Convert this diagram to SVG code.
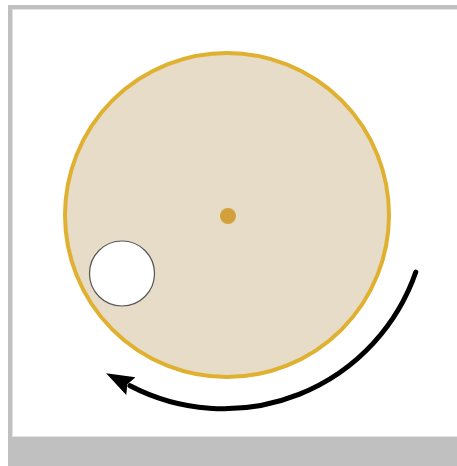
<svg xmlns="http://www.w3.org/2000/svg" width="457" height="466" viewBox="0 0 457 466">
  <style>
    .frame { fill: #c0c0c0; }
    .panel { fill: #ffffff; stroke: #e2e2e2; stroke-width: 1; }
    .disc { fill: #e6dcc7; stroke: #e0b030; stroke-width: 4; }
    .hub { fill: #d2a13c; }
    .hole { fill: #ffffff; stroke: #555555; stroke-width: 1.2; }
    .rot { fill: none; stroke: #000000; stroke-width: 5; stroke-linecap: round; }
  </style>
  <defs>
    <marker id="arrow" viewBox="0 0 28 22" refX="1" refY="11" markerWidth="28" markerHeight="22" markerUnits="userSpaceOnUse" orient="auto">
      <path d="M0,1 L28,11 L0,21 L4,11 z" fill="#000000"/>
    </marker>
  </defs>
  <rect class="frame" x="8" y="5" width="449" height="461"/>
  <rect class="panel" x="12.5" y="9.5" width="450" height="427"/>
  <g id="disc">
    <circle class="disc" cx="227" cy="215" r="162"/>
  </g>
  <g id="hub">
    <circle class="hub" cx="228" cy="216" r="8"/>
  </g>
  <g id="hole">
    <circle class="hole" cx="122" cy="273.5" r="32.5"/>
  </g>
  <g id="connectors">
    <path class="rot" d="M415.8,272 A203,203 0 0 1 130,385.7" marker-end="url(#arrow)"/>
  </g>
</svg>
